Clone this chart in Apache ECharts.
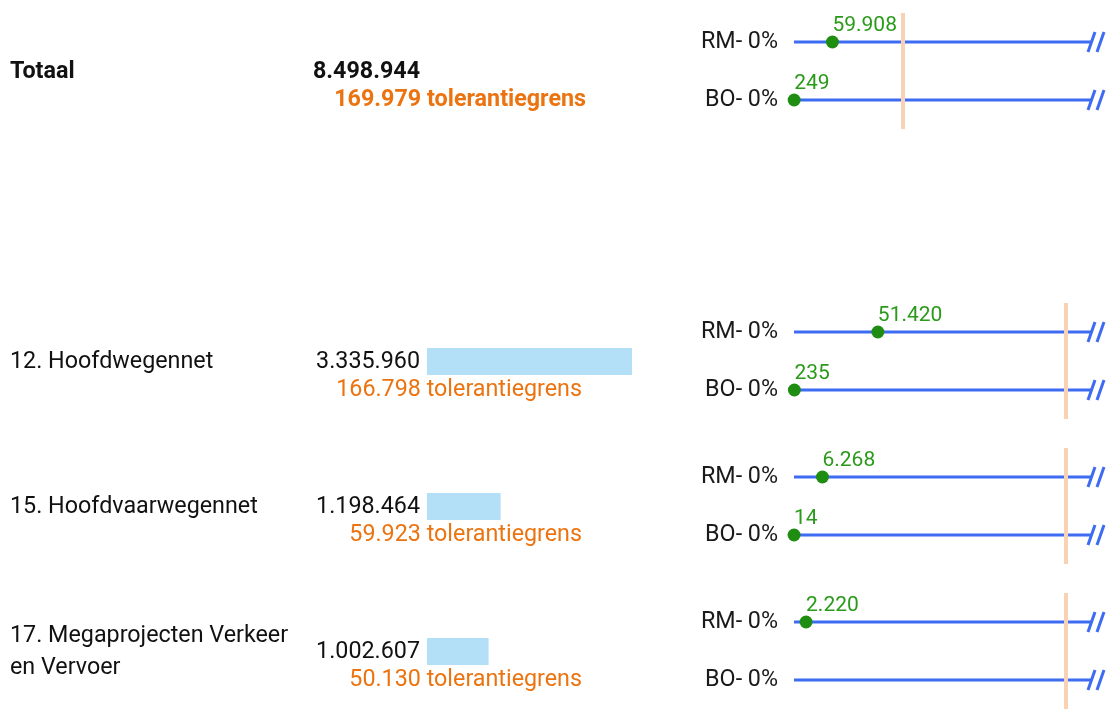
<!DOCTYPE html>
<html>
<head>
<meta charset="utf-8">
<script src="https://cdn.jsdelivr.net/npm/echarts@6/dist/echarts.min.js"></script>
<style>
html,body{margin:0;padding:0;background:#fff;}
#chart{width:1116px;height:709px;}
</style>
</head>
<body>
<div id="chart"></div>
<script>
// ---- data ----
var categories = ['Totaal', '12. Hoofdwegennet', '15. Hoofdvaarwegennet', '17. Megaprojecten Verkeer\nen Vervoer'];
var totals = [8498944, 3335960, 1198464, 1002607];
var tolerances = [169979, 166798, 59923, 50130];
var rmValues = [59908, 51420, 6268, 2220];
var boValues = [249, 235, 14, null];
var rmPct = ['0%', '0%', '0%', '0%'];
var boPct = ['0%', '0%', '0%', '0%'];
var showBar = [false, true, true, true];
var scaleMax = [461600, 181500, 65200, 54550];
var barMax = 3335960;
var lineCats = ['BO', 'RM'];

// ---- layout ----
var rowCenters = [71.5, 361.5, 506.5, 651.5];
var tolRight = [586, 582, 582, 582];
var FONT = 'Roboto';
var FS = 23.3;

function fmt(v) {
  return String(v).replace(/\B(?=(\d{3})+(?!\d))/g, '.');
}

var grids = [], xAxes = [], yAxes = [], series = [], graphics = [];

categories.forEach(function (cat, i) {
  var c = rowCenters[i];
  var bold = i === 0;
  // bar grid
  var gA = grids.length;
  grids.push({ left: 427, width: 205, top: c - 13.5, height: 27 });
  xAxes.push({ gridIndex: gA, type: 'value', min: 0, max: barMax, show: false });
  yAxes.push({ gridIndex: gA, type: 'category', data: [cat], show: false });
  series.push({
    type: 'bar', xAxisIndex: gA, yAxisIndex: gA,
    data: showBar[i] ? [totals[i]] : [],
    barWidth: 27, silent: true,
    itemStyle: { color: '#b3e0f7' }
  });
  // line grid
  var gB = grids.length;
  grids.push({ left: 794, width: 296, top: c - 58.5, height: 116 });
  xAxes.push({ gridIndex: gB, type: 'value', min: 0, max: scaleMax[i], show: false });
  yAxes.push({
    gridIndex: gB, type: 'category', data: lineCats,
    axisLine: { show: false }, axisTick: { show: false }, splitLine: { show: false },
    axisLabel: {
      margin: 16, fontSize: FS, fontFamily: FONT, color: '#1a1a1a',
      formatter: function (v) { return v === 'RM' ? 'RM- ' + rmPct[i] : 'BO- ' + boPct[i]; }
    }
  });
  var maxV = scaleMax[i];
  series.push({
    type: 'custom', xAxisIndex: gB, yAxisIndex: gB, silent: true,
    data: [[maxV, 'RM'], [maxV, 'BO']],
    renderItem: function (params, api) {
      var s = api.coord([0, api.value(1)]);
      var e = api.coord([api.value(0), api.value(1)]);
      var st = { stroke: '#3d6cf2', lineWidth: 3 };
      return {
        type: 'group',
        children: [
          { type: 'line', shape: { x1: s[0], y1: s[1], x2: e[0] + 2, y2: e[1] }, style: st },
          { type: 'line', shape: { x1: e[0] - 2, y1: e[1] + 10, x2: e[0] + 5, y2: e[1] - 10 }, style: st },
          { type: 'line', shape: { x1: e[0] + 7, y1: e[1] + 10, x2: e[0] + 14, y2: e[1] - 10 }, style: st }
        ]
      };
    },
    markLine: {
      silent: true, symbol: 'none', animation: false,
      label: { show: false },
      lineStyle: { color: '#f9d2b3', width: 4, type: 'solid', opacity: 1 },
      data: [{ xAxis: tolerances[i] }]
    },
    z: 2
  });
  var pts = [];
  if (rmValues[i] != null) pts.push([rmValues[i], 'RM']);
  if (boValues[i] != null) pts.push([boValues[i], 'BO']);
  series.push({
    type: 'scatter', xAxisIndex: gB, yAxisIndex: gB, silent: true,
    data: pts, symbolSize: 13, z: 5,
    itemStyle: { color: '#1f8c12', opacity: 1 },
    label: {
      show: true, position: 'top', align: 'left', distance: -1,
      fontSize: 21, fontFamily: FONT, color: '#2a9a1a',
      formatter: function (p) { return fmt(p.value[0]); }
    }
  });
  // texts
  graphics.push({
    type: 'text', x: 10, y: c + 1,
    style: { text: cat, font: (bold ? 'bold ' : '') + FS + 'px ' + FONT, fill: '#111', lineHeight: 32, verticalAlign: 'middle', align: 'left' }
  });
  graphics.push({
    type: 'text', x: 420, y: c + 1,
    style: { text: fmt(totals[i]), font: (bold ? 'bold ' : '') + FS + 'px ' + FONT, fill: '#111', align: 'right', verticalAlign: 'middle' }
  });
  graphics.push({
    type: 'text', x: tolRight[i], y: c + 29,
    style: { text: fmt(tolerances[i]) + ' tolerantiegrens', font: (bold ? 'bold ' : '') + FS + 'px ' + FONT, fill: '#ec7410', align: 'right', verticalAlign: 'middle' }
  });
});

var chart = echarts.init(document.getElementById('chart'), null, { renderer: 'canvas' });
chart.setOption({
  animation: false,
  backgroundColor: '#fff',
  grid: grids, xAxis: xAxes, yAxis: yAxes, series: series,
  graphic: graphics
});
</script>
</body>
</html>
